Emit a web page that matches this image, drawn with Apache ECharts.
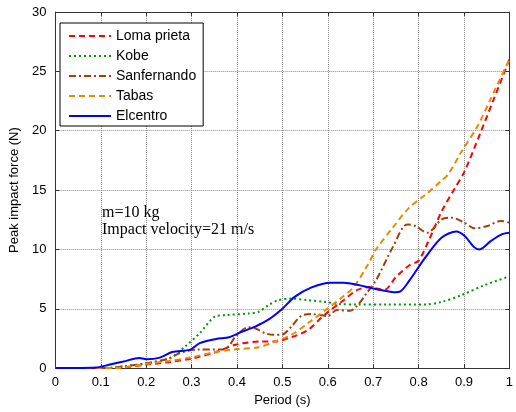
<!DOCTYPE html>
<html><head><meta charset="utf-8">
<script src="https://cdn.jsdelivr.net/npm/echarts@6/dist/echarts.min.js"></script>
<style>html,body{margin:0;padding:0;background:#fff}#c{width:516px;height:412px}</style>
</head><body><div id="c"></div>
<script>
var xTicks = [0,0.1,0.2,0.3,0.4,0.5,0.6,0.7,0.8,0.9,1];
var yTicks = [0,5,10,15,20,25,30];

var lomaX = [0,0.13,0.2,0.25,0.3,0.35,0.397,0.455,0.484,0.52,0.556,0.592,0.635,0.664,0.692,0.71,0.725,0.75,0.779,0.8,0.822,0.851,0.88,0.901,0.937,0.966,1.0];
var lomaY = [0,0,0.3,0.5,0.8,1.3,1.97,2.25,2.25,2.6,3.2,4.47,5.72,6.56,6.83,6.69,6.6,7.67,8.64,9.06,10.72,13.22,15.17,16.55,19.9,22.7,26.0];

var kobeX = [0,0.1,0.15,0.2,0.253,0.286,0.318,0.351,0.376,0.426,0.448,0.469,0.491,0.52,0.556,0.592,0.628,0.664,0.73,0.815,0.851,0.894,0.944,1.0];
var kobeY = [0,0,0.15,0.4,0.86,1.83,2.94,4.33,4.47,4.6,4.75,5.3,5.72,5.86,5.72,5.58,5.39,5.36,5.36,5.36,5.58,6.14,6.97,7.72];

var sanX = [0,0.12,0.15,0.2,0.25,0.275,0.311,0.368,0.383,0.397,0.426,0.44,0.462,0.48,0.498,0.52,0.541,0.563,0.6,0.62,0.649,0.664,0.685,0.707,0.743,0.775,0.793,0.819,0.851,0.873,0.901,0.923,0.952,0.981,1.0];
var sanY = [0,0,0.15,0.4,0.8,1.28,1.56,1.56,1.9,2.67,3.45,3.36,2.94,2.8,2.8,3.5,4.39,4.56,4.39,4.89,4.83,5.22,6.28,7.45,10.17,12.1,11.97,11.4,12.53,12.67,12.25,11.78,11.97,12.4,12.25];

var tabasX = [0,0.13,0.2,0.25,0.3,0.35,0.4,0.448,0.484,0.52,0.556,0.6,0.628,0.657,0.685,0.707,0.743,0.779,0.815,0.851,0.865,0.894,0.93,0.959,1.0];
var tabasY = [0,0,0.35,0.6,0.9,1.35,1.6,1.75,2.25,2.8,3.78,5.03,5.86,6.83,8.5,10.03,11.83,13.5,14.6,15.8,16.3,18.2,20.4,22.7,26.0];

var elX = [0,0.09,0.12,0.15,0.185,0.2,0.23,0.257,0.297,0.318,0.354,0.383,0.412,0.44,0.47,0.5,0.527,0.563,0.606,0.635,0.671,0.692,0.72,0.745,0.76,0.78,0.815,0.851,0.883,0.901,0.923,0.934,0.959,0.984,1.0];
var elY = [0,0.05,0.3,0.55,0.86,0.75,0.88,1.35,1.56,2.1,2.45,2.6,3.08,3.5,4.1,5.0,6.0,6.78,7.2,7.2,6.97,6.78,6.55,6.4,6.47,7.39,9.33,11.0,11.5,11.14,10.17,10.0,10.7,11.28,11.4];

var names = ['Loma prieta','Kobe','Sanfernando','Tabas','Elcentro'];
var annot1 = 'm=10 kg';
var annot2 = 'Impact velocity=21 m/s';

function pairs(xs, ys){ return xs.map(function(x,i){return [x, ys[i]];}); }

var chart = echarts.init(document.getElementById('c'), null, {renderer:'canvas'});
var gridLine = {show:true, lineStyle:{color:'#8a8a8a', type:'dotted', width:1}};
var axLine = {show:true, onZero:false, lineStyle:{color:'#333', width:1}};
var tick = {show:true, inside:true, length:4, lineStyle:{color:'#333'}};
function mk(name, xs, ys, color, type){
  return {name:name, type:'line', data:pairs(xs,ys), symbol:'none', showSymbol:false, smooth:0.3,
    lineStyle:{color:color, width:2, type:type}, itemStyle:{color:color}, z:3};
}
chart.setOption({
  animation:false,
  grid:{left:53, right:0, top:12, bottom:40, containLabel:false},
  legend:{orient:'vertical', left:60, top:23, backgroundColor:'#fff',
    borderColor:'#000', borderWidth:1, padding:[6,7,3,8], itemGap:6, itemWidth:42, itemHeight:14,
    itemStyle:{opacity:0},
    textStyle:{fontFamily:'Liberation Sans, Arial', fontSize:14, color:'#000'}, data:names},
  xAxis:[{type:'value', min:0, max:1, interval:0.1, position:'bottom',
    axisLine:axLine, splitLine:gridLine, axisTick:tick,
    axisLabel:{color:'#000', fontSize:13, fontFamily:'Liberation Sans, Arial', margin:8,
      formatter:function(v){ var t = xTicks.filter(function(a){return Math.abs(a-v)<1e-6;}); return t.length? String(t[0]):''; }},
    name:'Period (s)', nameLocation:'middle', nameGap:25,
    nameTextStyle:{color:'#000', fontSize:13, fontFamily:'Liberation Sans, Arial'}},
    {type:'value', min:0, max:1, interval:0.1, position:'top', axisLine:axLine, splitLine:{show:false},
     axisTick:tick, axisLabel:{show:false}}],
  yAxis:[{type:'value', min:0, max:30, interval:5, position:'left',
    axisLine:axLine, splitLine:gridLine, axisTick:tick,
    axisLabel:{color:'#000', fontSize:13, fontFamily:'Liberation Sans, Arial', margin:9,
      formatter:function(v){ return yTicks.indexOf(v)>=0 ? String(v) : ''; }},
    name:'Peak impact force (N)', nameLocation:'middle', nameGap:27, nameRotate:90,
    nameTextStyle:{color:'#000', fontSize:13, fontFamily:'Liberation Sans, Arial'}},
    {type:'value', min:0, max:30, interval:5, position:'right', axisLine:axLine, splitLine:{show:false},
     axisTick:tick, axisLabel:{show:false}}],
  graphic:[
    {type:'text', left:102, top:205, style:{text:annot1, font:'16px "Liberation Serif", serif', fill:'#000'}},
    {type:'text', left:102, top:222, style:{text:annot2, font:'16px "Liberation Serif", serif', fill:'#000'}}
  ],
  series:[
    mk(names[0], lomaX, lomaY, '#ff0000', [6,4]),
    mk(names[1], kobeX, kobeY, '#009900', [2,3]),
    mk(names[2], sanX, sanY, '#a0400a', [7,3,2,3]),
    mk(names[3], tabasX, tabasY, '#ea8a00', [6,4]),
    mk(names[4], elX, elY, '#0000ff', 'solid')
  ]
});
</script></body></html>
